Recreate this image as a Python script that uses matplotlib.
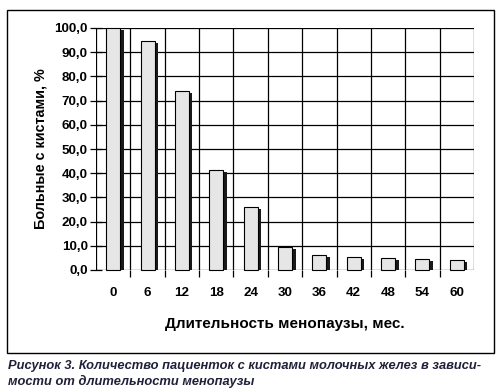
import matplotlib
matplotlib.use("Agg")
import matplotlib.pyplot as plt
import matplotlib.transforms as mtransforms
from matplotlib.patches import Rectangle
import numpy as np

plt.rcParams['font.family'] = ['Liberation Sans', 'DejaVu Sans']

months = ['0', '6', '12', '18', '24', '30', '36', '42', '48', '54', '60']
patients_pct = [100.0, 94.8, 73.8, 41.5, 26.0, 9.6, 6.1, 5.3, 4.8, 4.4, 4.0]
yticks = [0, 10, 20, 30, 40, 50, 60, 70, 80, 90, 100]
ytick_labels = ['0,0', '10,0', '20,0', '30,0', '40,0', '50,0', '60,0', '70,0', '80,0', '90,0', '100,0']

W, H = 502, 389
fig = plt.figure(figsize=(W / 100, H / 100), dpi=100)
ax = fig.add_axes([96 / W, 1 - 270 / H, (474 - 96) / W, (270 - 28) / H])

x = np.arange(len(months))
lw = 0.9
# grid
for yv in yticks:
    ax.axhline(yv, color='black', lw=lw, zorder=1)
for b in np.arange(len(months) + 1) - 0.5:
    ax.axvline(b, color='black', lw=lw, zorder=1)

bw = 0.41
shadow_tr = ax.transData + mtransforms.ScaledTranslation(3.5 / 100, -2 / 100, fig.dpi_scale_trans)
ax.bar(x, patients_pct, width=bw, color='#1a1a1a', edgecolor='none', zorder=2, transform=shadow_tr)
bars = ax.bar(x, patients_pct, width=bw, color='#e6e6e6', edgecolor='black', linewidth=0.8, zorder=3)
for b in bars:
    b.set_clip_on(False)

ax.set_xlim(-0.5, len(months) - 0.5)
ax.set_ylim(0, 100)
for s in ax.spines.values():
    s.set_visible(False)

ax.set_yticks(yticks)
ax.set_yticklabels(ytick_labels, fontsize=9.6, fontweight='bold')
ax.tick_params(axis='y', direction='inout', length=8, width=lw, pad=2)
ax.set_xticks(x)
ax.set_xticklabels(months, fontsize=9.6, fontweight='bold')
ax.tick_params(axis='x', which='major', length=0, pad=12)
ax.set_xticks(np.arange(1, len(months)) - 0.5, minor=True)
ax.tick_params(axis='x', which='minor', direction='out', length=5, width=lw)
ax.set_ylabel('Больные с кистами, %', fontsize=10.4, fontweight='bold', labelpad=5)
ax.set_xlabel('Длительность менопаузы, мес.', fontsize=11, fontweight='bold', labelpad=13)

fig.patches.append(Rectangle((7 / W, 1 - 353 / H), (494 - 7) / W, (353 - 10) / H,
                             transform=fig.transFigure, fill=False, edgecolor='black', lw=1.0))

cap_color = '#20203a'
fig.text(8 / W, 1 - 366 / H, 'Рисунок 3. Количество пациенток с кистами молочных желез в зависи-',
         fontsize=9.3, fontweight='bold', fontstyle='italic', color=cap_color, va='center', ha='left')
fig.text(8 / W, 1 - 381 / H, 'мости от длительности менопаузы',
         fontsize=9.3, fontweight='bold', fontstyle='italic', color=cap_color, va='center', ha='left')

fig.savefig('out.png', dpi=100)
